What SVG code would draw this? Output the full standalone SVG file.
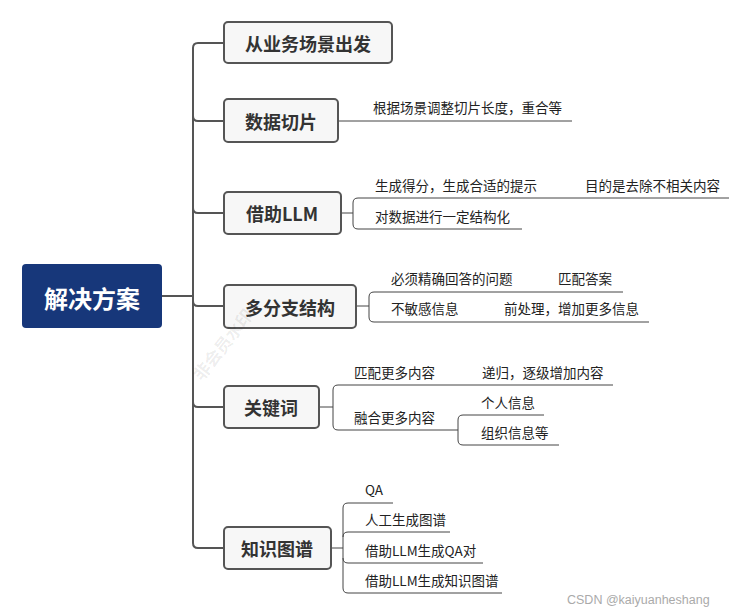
<svg xmlns="http://www.w3.org/2000/svg" width="750" height="614" viewBox="0 0 750 614">
<style>
.node rect{fill:#f7f7f7;stroke:#555;stroke-width:2}
.nt{font-family:"Noto Sans CJK SC","Noto Sans",sans-serif;font-weight:bold;font-size:18px;fill:#333;text-anchor:middle;dominant-baseline:central}
.st{font-family:"Noto Sans CJK SC","Noto Sans",sans-serif;font-size:13.5px;fill:#222}
.main{fill:none;stroke:#555;stroke-width:2}
.sub{fill:none;stroke:#444;stroke-width:1}
</style>
<rect width="750" height="614" fill="#fff"/>
<g id="connectors">
<path class="main" d="M162,296H193" stroke-width="3"/>
<path class="main" d="M224,43H198Q193,43 193,48V543Q193,548 198,548H224"/>
<path class="main" d="M193,116Q193,121 198,121H224"/>
<path class="main" d="M193,208Q193,213 198,213H224"/>
<path class="main" d="M193,301Q193,306 198,306H224"/>
<path class="main" d="M193,402Q193,407 198,407H224"/>
<path class="sub" d="M338,121H572"/>
<path class="sub" d="M341,213H353"/>
<path class="sub" d="M729,198H358Q353,198 353,203V224Q353,229 358,229H522"/>
<path class="sub" d="M356,306H369"/>
<path class="sub" d="M623,292H374Q369,292 369,297V317Q369,322 374,322H649"/>
<path class="sub" d="M319,407H333"/>
<path class="sub" d="M613,385H338Q333,385 333,390V425Q333,430 338,430H458"/>
<path class="sub" d="M544,415H463Q458,415 458,420V440Q458,445 463,445H559"/>
<path class="sub" d="M331,548H343"/>
<path class="sub" d="M393,503H348Q343,503 343,508V588Q343,593 348,593H502"/>
<path class="sub" d="M343,537Q343,532 348,532H450"/>
<path class="sub" d="M343,558Q343,563 348,563H483"/>
</g>
<g id="root">
<rect x="22" y="264" width="140" height="64" rx="4" fill="#17377a"/>
<text x="92" y="297" font-family="Noto Sans CJK SC,sans-serif" font-weight="bold" font-size="24" fill="#fff" text-anchor="middle" dominant-baseline="central">解决方案</text>
</g>
<g id="n1" class="node"><rect x="224" y="22" width="168" height="41" rx="4"/><text class="nt" x="308" y="43">从业务场景出发</text></g>
<g id="n2" class="node"><rect x="224" y="99" width="114" height="43" rx="4"/><text class="nt" x="281" y="121">数据切片</text></g>
<g id="n3" class="node"><rect x="224" y="192" width="117" height="42" rx="4"/><text class="nt" x="282" y="213">借助LLM</text></g>
<g id="n4" class="node"><rect x="224" y="285" width="132" height="43" rx="4"/><text class="nt" x="290" y="307">多分支结构</text></g>
<g id="n5" class="node"><rect x="224" y="386" width="95" height="42" rx="4"/><text class="nt" x="271" y="407">关键词</text></g>
<g id="n6" class="node"><rect x="224" y="527" width="107" height="42" rx="4"/><text class="nt" x="277" y="548">知识图谱</text></g>
<g id="subtopics">
<text class="st" x="373" y="113">根据场景调整切片长度，重合等</text>
<text class="st" x="375" y="191">生成得分，生成合适的提示</text>
<text class="st" x="585" y="191">目的是去除不相关内容</text>
<text class="st" x="375" y="222">对数据进行一定结构化</text>
<text class="st" x="391" y="284">必须精确回答的问题</text>
<text class="st" x="558" y="284">匹配答案</text>
<text class="st" x="391" y="314">不敏感信息</text>
<text class="st" x="504" y="314">前处理，增加更多信息</text>
<text class="st" x="354" y="378">匹配更多内容</text>
<text class="st" x="482" y="378">递归，逐级增加内容</text>
<text class="st" x="354" y="423">融合更多内容</text>
<text class="st" x="481" y="408">个人信息</text>
<text class="st" x="481" y="438">组织信息等</text>
<text class="st" x="365" y="495">QA</text>
<text class="st" x="365" y="525">人工生成图谱</text>
<text class="st" x="365" y="556">借助LLM生成QA对</text>
<text class="st" x="365" y="586">借助LLM生成知识图谱</text>
</g>
<text x="202" y="382" transform="rotate(-52 202 382)" font-family="Noto Sans CJK SC,sans-serif" font-weight="bold" font-size="17" fill="#000" fill-opacity="0.08">非会员水印</text>
<text x="567" y="604" font-family="Liberation Sans,sans-serif" font-size="12.5" fill="#aaa">CSDN @kaiyuanheshang</text>
</svg>
